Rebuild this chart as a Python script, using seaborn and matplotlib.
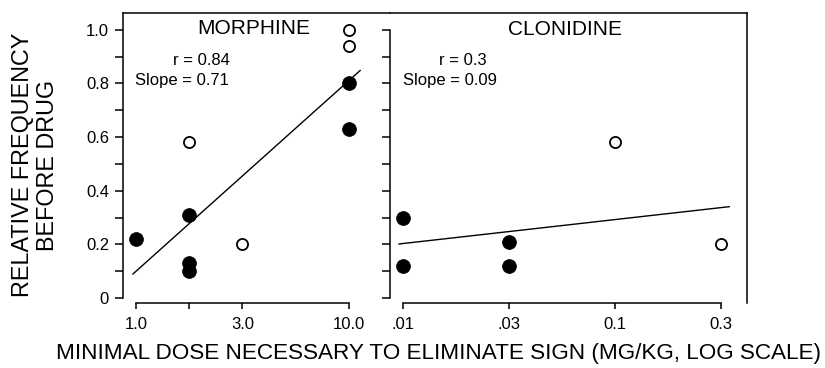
import numpy as np
import matplotlib
matplotlib.use("Agg")
import matplotlib.pyplot as plt
import seaborn as sns

# morphine doses (mg/kg) and relative frequency before drug
morph_filled_dose = [1.0, 1.78, 1.78, 1.78, 10.0, 10.0]
morph_filled_freq = [0.22, 0.31, 0.13, 0.10, 0.80, 0.63]
morph_open_dose = [1.78, 3.16, 10.0, 10.0]
morph_open_freq = [0.58, 0.20, 1.00, 0.94]

# clonidine
clon_filled_dose = [0.01, 0.01, 0.0316, 0.0316]
clon_filled_freq = [0.30, 0.12, 0.21, 0.12]
clon_open_dose = [0.1, 0.316]
clon_open_freq = [0.58, 0.20]

morph_ticks = [1.0, 1.78, 3.16, 10.0]
morph_ticklabels = ["1.0", "", "3.0", "10.0"]
clon_ticks = [0.01, 0.0316, 0.1, 0.316]
clon_ticklabels = [".01", ".03", "0.1", "0.3"]
y_ticks = [0, 0.2, 0.4, 0.6, 0.8, 1.0]
y_ticklabels = ["0", "0.2", "0.4", "0.6", "0.8", "1.0"]
y_minor = [0.1, 0.3, 0.5, 0.7, 0.9]

stats_morph = ["r = 0.84", "Slope = 0.71"]
stats_clon = ["r = 0.3", "Slope = 0.09"]

sns.set_style("ticks")
plt.rcParams["font.family"] = ["Liberation Sans", "DejaVu Sans"]
plt.rcParams.update({
    "axes.linewidth": 1.1,
    "axes.edgecolor": "black",
    "text.color": "black",
    "axes.labelcolor": "black",
    "xtick.color": "black",
    "ytick.color": "black",
})

fig = plt.figure(figsize=(8.25, 3.68), dpi=100)
ax1 = fig.add_axes([123 / 825, 1 - 303 / 368, 267 / 825, 290 / 368])
ax2 = fig.add_axes([390 / 825, 1 - 303 / 368, 357 / 825, 290 / 368])

ylim = (-0.019, 1.063)


def fit_line(ax, dose, freq, pad_lo, pad_hi):
    # least squares on log10(dose), drawn a little past the data range
    lx = np.log10(dose)
    slope, icpt = np.polyfit(lx, freq, 1)
    xs = np.linspace(lx.min() - pad_lo, lx.max() + pad_hi, 50)
    sns.lineplot(x=10 ** xs, y=icpt + slope * xs, ax=ax, color="black", lw=1.0)


def panel(ax, fd, ff, od, of):
    sns.scatterplot(x=fd, y=ff, ax=ax, s=100, color="black", edgecolor="black",
                    linewidth=0.5, zorder=3)
    sns.scatterplot(x=od, y=of, ax=ax, s=64, facecolor="white",
                    edgecolor="black", linewidth=1.3, zorder=3)
    ax.set_xscale("log")
    ax.set_ylim(*ylim)
    ax.set_yticks(y_ticks)
    ax.set_yticks(y_minor, minor=True)
    ax.tick_params(axis="y", which="both", direction="out", length=6, width=1.1)
    ax.tick_params(axis="x", which="major", direction="out", length=4, width=1.1,
                   labelsize=12, pad=6)
    ax.tick_params(axis="x", which="minor", length=0)
    ax.set_xlabel("")
    ax.set_ylabel("")


# morphine panel
panel(ax1, morph_filled_dose, morph_filled_freq, morph_open_dose, morph_open_freq)
fit_line(ax1, morph_filled_dose + morph_open_dose,
         morph_filled_freq + morph_open_freq, 0.015, 0.053)
ax1.set_xlim(10 ** (-13 / 213), 10 ** (254 / 213))
ax1.set_xticks(morph_ticks)
ax1.set_xticklabels(morph_ticklabels)
ax1.set_yticklabels(y_ticklabels, fontsize=12)
ax1.tick_params(axis="y", pad=4)
ax1.spines["right"].set_visible(False)
ax1.spines["left"].set_bounds(0, ylim[1])
ax1.spines["bottom"].set_bounds(morph_ticks[0], morph_ticks[-1])
ax1.set_ylabel("RELATIVE FREQUENCY\nBEFORE DRUG", fontsize=16.8, linespacing=1.12)
ax1.yaxis.set_label_coords(-0.238, 0.475)
ax1.text(0.49, 0.947, "MORPHINE", transform=ax1.transAxes, ha="center",
         va="center", fontsize=15)
ax1.text(0.187, 0.835, stats_morph[0], transform=ax1.transAxes, ha="left",
         va="center", fontsize=12)
ax1.text(0.045, 0.768, stats_morph[1], transform=ax1.transAxes, ha="left",
         va="center", fontsize=12)

# clonidine panel
panel(ax2, clon_filled_dose, clon_filled_freq, clon_open_dose, clon_open_freq)
fit_line(ax2, clon_filled_dose + clon_open_dose,
         clon_filled_freq + clon_open_freq, 0.02, 0.04)
ax2.set_xlim(0.01 * 10 ** (-13 / 212), 0.01 * 10 ** (344 / 212))
ax2.set_xticks(clon_ticks)
ax2.set_xticklabels(clon_ticklabels)
ax2.set_yticklabels([])
ax2.spines["left"].set_bounds(0, 1.0)
ax2.spines["bottom"].set_bounds(clon_ticks[0], clon_ticks[-1])
ax2.text(0.49, 0.944, "CLONIDINE", transform=ax2.transAxes, ha="center",
         va="center", fontsize=15)
ax2.text(0.137, 0.835, stats_clon[0], transform=ax2.transAxes, ha="left",
         va="center", fontsize=12)
ax2.text(0.036, 0.768, stats_clon[1], transform=ax2.transAxes, ha="left",
         va="center", fontsize=12)

fig.text(0.532, 0.04, "MINIMAL DOSE NECESSARY TO ELIMINATE SIGN (MG/KG, LOG SCALE)",
         ha="center", va="center", fontsize=16.2)

fig.savefig("out.png", dpi=100)
